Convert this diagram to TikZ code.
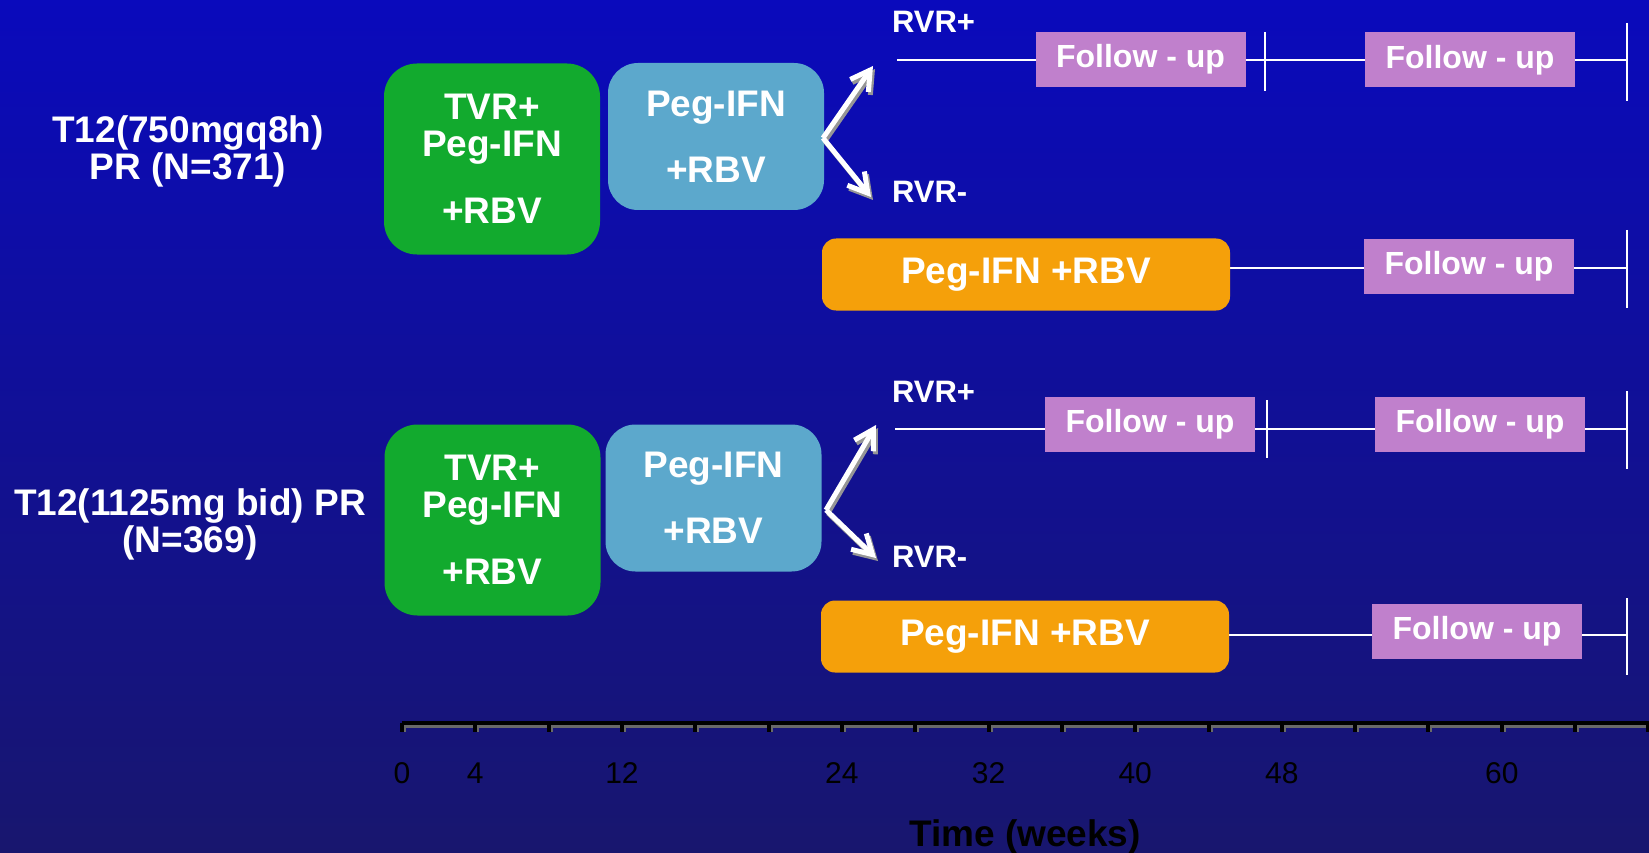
\documentclass[tikz,border=0pt]{standalone}
\usepackage{fontspec}
\setmainfont{Liberation Sans}
\usetikzlibrary{arrows.meta}
\definecolor{bgtop}{RGB}{10,10,188}
\definecolor{bgbot}{RGB}{24,22,110}
\definecolor{tgreen}{RGB}{18,170,46}
\definecolor{tblue}{RGB}{92,168,204}
\definecolor{torange}{RGB}{245,160,10}
\definecolor{tviolet}{RGB}{192,128,204}
\definecolor{shadowgray}{RGB}{150,150,150}
\begin{document}
\begin{tikzpicture}[x=1pt,y=-1pt,
  every node/.style={inner sep=0pt, outer sep=0pt},
  wtxt/.style={text=white, font=\fontsize{37}{37}\selectfont\bfseries, align=center},
  greenbox/.style={fill=tgreen, rounded corners=33pt, wtxt, minimum width=216pt, minimum height=191pt},
  bluebox/.style={fill=tblue, rounded corners=30pt, wtxt, minimum width=216pt, minimum height=147pt},
  orangebox/.style={fill=torange, rounded corners=14pt, wtxt, minimum width=408pt, minimum height=72pt},
  fubox/.style={fill=tviolet, text=white, font=\fontsize{32}{32}\selectfont\bfseries, minimum width=210pt, minimum height=55pt},
  rvr/.style={text=white, font=\fontsize{31}{31}\selectfont\bfseries, anchor=base west},
  armlabel/.style={text=white, font=\fontsize{37}{37}\selectfont\bfseries, align=center},
  tline/.style={white, line width=2.5pt},
  tick/.style={white, line width=2.2pt},
  branch/.style={white, line width=5pt, -{Straight Barb[length=19pt,width=22pt]},
    preaction={draw=shadowgray, line width=5pt, -{Straight Barb[length=19pt,width=22pt]}, transform canvas={shift={(2pt,-3pt)}}}},
  axlab/.style={text=black, font=\fontsize{30}{30}\selectfont, anchor=base},
  axtitle/.style={text=black, font=\fontsize{37}{37}\selectfont\bfseries, anchor=base}
]
\useasboundingbox (0,0) rectangle (1649,853);
\shade[top color=bgtop, bottom color=bgbot] (0,0) rectangle (1649,853);

% ---------- timelines (behind boxes) ----------
\coordinate (r1s) at (897,60);   \coordinate (r1e) at (1628,60);
\coordinate (r1ls) at (1230,268); \coordinate (r1le) at (1628,268);
\coordinate (r2s) at (895,429);  \coordinate (r2e) at (1628,429);
\coordinate (r2ls) at (1229,635); \coordinate (r2le) at (1628,635);
\draw[tline] (r1s) -- (r1e);
\draw[tline] (r1ls) -- (r1le);
\draw[tline] (r2s) -- (r2e);
\draw[tline] (r2ls) -- (r2le);

\coordinate (k1at) at (1265,32);  \coordinate (k1ab) at (1265,91);
\coordinate (k1bt) at (1627,23);  \coordinate (k1bb) at (1627,101);
\coordinate (k1ct) at (1627,230); \coordinate (k1cb) at (1627,308);
\coordinate (k2at) at (1267,400); \coordinate (k2ab) at (1267,458);
\coordinate (k2bt) at (1627,391); \coordinate (k2bb) at (1627,469);
\coordinate (k2ct) at (1627,598); \coordinate (k2cb) at (1627,675);
\draw[tick] (k1at) -- (k1ab);
\draw[tick] (k1bt) -- (k1bb);
\draw[tick] (k1ct) -- (k1cb);
\draw[tick] (k2at) -- (k2ab);
\draw[tick] (k2bt) -- (k2bb);
\draw[tick] (k2ct) -- (k2cb);

% ---------- arm 1 ----------
\node[armlabel] (arm1) at (188,151) {T12(750mgq8h)\\PR (N=371)};
\node[greenbox] (g1) at (492,159) {TVR+\\Peg-IFN\\[30pt]+RBV};
\node[bluebox] (b1) at (716,136.5) {Peg-IFN\\[29pt]+RBV};
\node[orangebox] (o1) at (1026,274.5) {Peg-IFN +RBV};
\node[fubox] (f1a) at (1140.5,59.5) {Follow - up};
\node[fubox] (f1b) at (1470,60) {Follow - up};
\node[fubox] (f1c) at (1469,266.5) {Follow - up};
\node[rvr] (rp1) at (892,33) {RVR+};
\node[rvr] (rm1) at (892,203) {RVR-};
\coordinate (s1) at (823,138);
\coordinate (u1) at (873,66);
\coordinate (d1) at (871,197);
\draw[branch] (s1) -- (u1);
\draw[branch] (s1) -- (d1);

% ---------- arm 2 ----------
\node[armlabel] (arm2) at (190,524) {T12(1125mg bid) PR\\(N=369)};
\node[greenbox] (g2) at (492.5,520) {TVR+\\Peg-IFN\\[30pt]+RBV};
\node[bluebox] (b2) at (713.5,498) {Peg-IFN\\[29pt]+RBV};
\node[orangebox] (o2) at (1025,636.5) {Peg-IFN +RBV};
\node[fubox] (f2a) at (1150,424) {Follow - up};
\node[fubox] (f2b) at (1480,424) {Follow - up};
\node[fubox] (f2c) at (1477,631.5) {Follow - up};
\node[rvr] (rp2) at (892,402) {RVR+};
\node[rvr] (rm2) at (892,567) {RVR-};
\coordinate (s2) at (826,510);
\coordinate (u2) at (876,425);
\coordinate (d2) at (876,558);
\draw[branch] (s2) -- (u2);
\draw[branch] (s2) -- (d2);

% ---------- axis ----------
\coordinate (ax0) at (402,723);
\coordinate (ax1) at (1649,723);
\draw[shadowgray!70!black, line width=3pt] ([yshift=-3pt]ax0) -- ([yshift=-3pt]ax1);
\draw[black, line width=4pt] (ax0) -- (ax1);
\foreach \w in {0,4,...,68} {
  \draw[shadowgray!70!black, line width=2pt] (402+18.33*\w+3,725) -- (402+18.33*\w+3,732);
  \draw[black, line width=4pt] (402+18.33*\w,723) -- (402+18.33*\w,732);
}
\foreach \w in {0,4,12,24,32,40,48,60} {
  \node[axlab] (wk\w) at (402+18.33*\w,783) {\w};
}
\node[axtitle] (axt) at (1025,846) {Time (weeks)};
\end{tikzpicture}
\end{document}
